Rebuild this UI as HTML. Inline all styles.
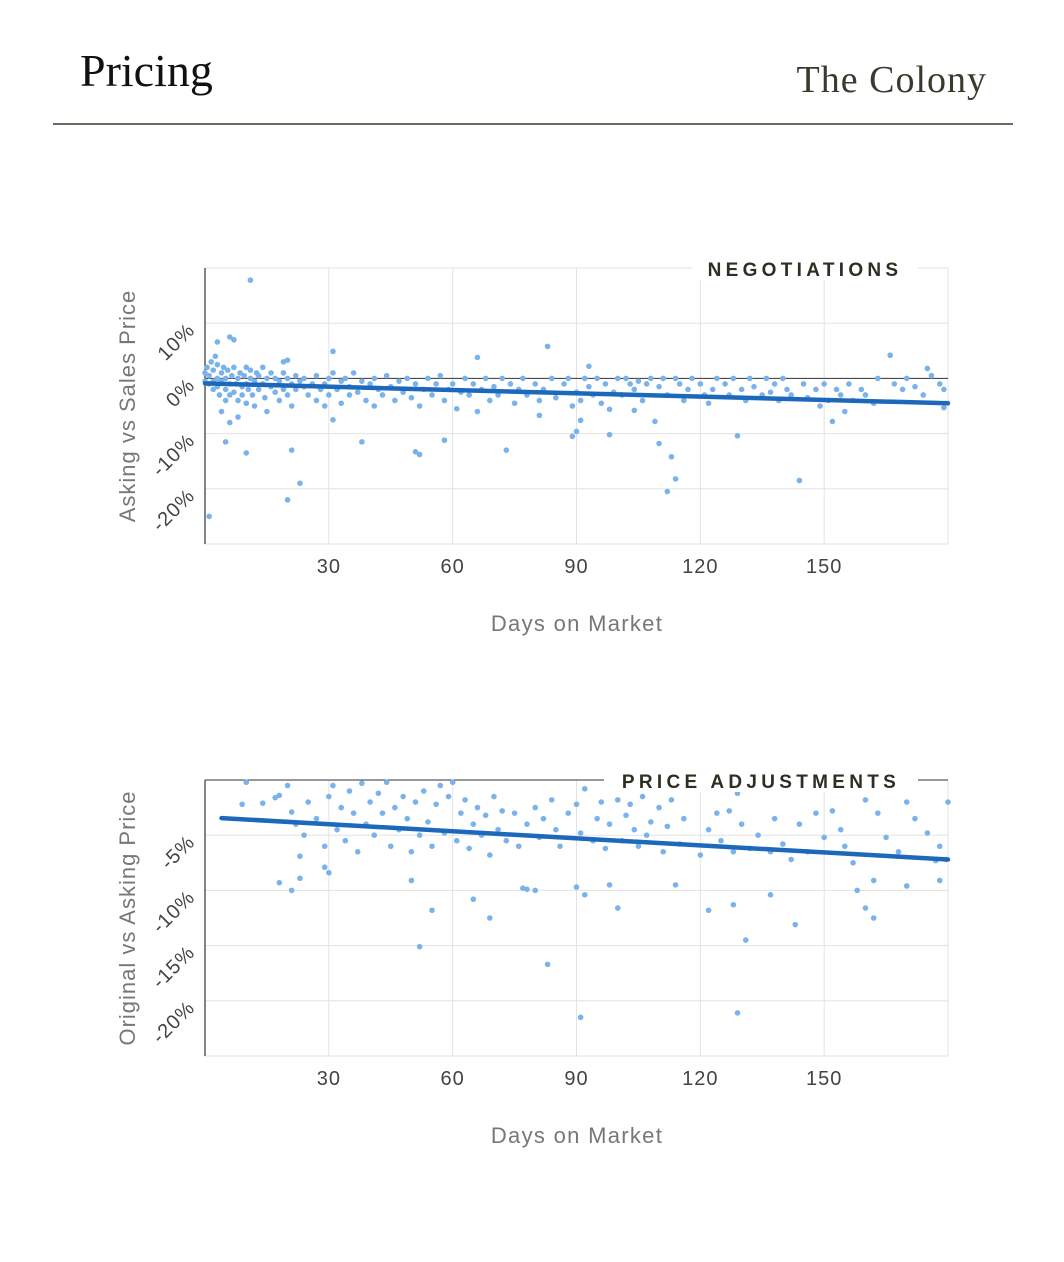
<!DOCTYPE html>
<html><head><meta charset="utf-8">
<style>
html,body{margin:0;padding:0;background:#fff;}
body{width:1064px;height:1262px;position:relative;overflow:hidden;font-family:"Liberation Sans",sans-serif;}
.title{position:absolute;left:80px;top:44px;font-family:"Liberation Serif",serif;font-size:46px;color:#111;}
.city{position:absolute;right:77px;top:58px;font-family:"Liberation Serif",serif;font-size:38px;color:#3b3a2e;letter-spacing:1px;}
.rule{position:absolute;left:53px;top:123px;width:960px;height:2px;background:#6b6a5e;}
svg{position:absolute;left:0;top:0;}
</style></head><body>
<div class="title">Pricing</div>
<div class="city">The Colony</div>
<div class="rule"></div>
<svg id="chart" width="1064" height="1262"></svg>
<script>
// Chart 1 data: negotiations (days on market, % asking vs sales)
const negDays = [0,0,0.5,1,1,1.5,2,2,2,2.5,3,3,3,3.5,4,4,4,4.5,5,5,5,5.5,6,6,6,6.5,7,7,7.5,8,8,8,8.5,9,9,9.5,10,10,10,10.5,11,11,11.5,12,12,12.5,13,13,14,14,14.5,15,15,16,16,17,17,18,18,19,19,20,20,21,21,22,22,23,24,24,25,26,27,27,28,29,29,30,30,31,31,32,33,33,34,35,35,36,37,38,39,40,41,41,42,43,44,45,46,47,48,49,50,51,52,53,54,55,56,57,58,59,60,61,62,63,64,65,66,67,68,69,70,71,72,74,75,76,77,78,80,81,82,84,85,87,88,89,90,91,92,93,94,95,96,97,99,100,101,102,103,104,105,106,107,108,110,111,112,114,115,116,117,118,120,121,122,123,124,126,127,128,130,131,132,133,135,136,137,138,139,140,141,142,145,146,148,149,150,151,153,154,156,157,159,160,162,163,167,169,170,172,174,176,178,179,
11,1,20,23,21,10,5,38,58,51,52,73,83,66,31,6,3,7,93,98,98,89,90,110,113,114,112,109,129,144,166,175,179,152,155,20,19,104,91,81];
const negPct = [1,-0.5,2,0.5,-1,3,1.5,-0.5,-2,4,0,-1.5,2.5,-3,1,-0.5,-6,2,0,-2,-4,1.5,-1,-3,-8,0.5,2,-2.5,-1,0,-4,-7,1,-1.5,-3,0.5,2,-1,-4.5,-2,0,1.5,-3,-0.5,-5,1,-2,0.5,-1,2,-3.5,0,-6,-1.5,1,-2.5,0,-0.5,-4,1,-2,0,-3,-1,-5,0.5,-2,-0.5,-1.5,0,-3,-1,0.5,-4,-2,-1,-5,0,-3,1,-7.5,-2,-0.5,-4.5,0,-1.5,-3,1,-2.5,-0.5,-4,-1,0,-5,-2,-3,0.5,-1.5,-4,-0.5,-2.5,0,-3.5,-1,-5,-2,0,-3,-1,0.5,-4,-2,-1,-5.5,-2.5,0,-3,-1,-6,-2,0,-4,-1.5,-3,0,-1,-4.5,-2,0,-3,-1,-4,-2,0,-3.5,-1,0,-5,-2.5,-4,0,-1.5,-3,0,-4.5,-1,-2.5,0,-3,0,-1,-2,-0.5,-4,-1,0,-1.5,0,-3,0,-1,-4,-2,0,-1,-3,-4.5,-2,0,-1,-3,0,-2,-4,0,-1.5,-3,0,-2.5,-1,-4,0,-2,-3,-1,-3.5,-2,-5,-1,-4,-2,-3,-1,-4,-2,-3,-4.5,0,-1,-2,0,-1.5,-3,0.5,-1,-2,
17.8,-25,-22,-19,-13,-13.5,-11.5,-11.5,-11.2,-13.3,-13.8,-13,5.8,3.8,4.9,7.5,6.6,7,2.2,-5.6,-10.2,-10.5,-9.6,-11.8,-14.2,-18.2,-20.5,-7.8,-10.4,-18.5,4.2,1.8,-5.3,-7.8,-6,3.3,3,-5.8,-7.6,-6.7];
const negTrendDays = [0,180];
const negTrendPct = [-0.9,-4.5];
const negYTicks = [10,0,-10,-20];
const xTicks = [30,60,90,120,150];

// Chart 2 data: price adjustments (days on market, % original vs asking)
const adjDays = [10,9,14,17,18,20,21,22,24,25,27,29,30,31,32,33,34,35,36,37,38,39,40,41,42,43,44,45,46,47,48,49,50,51,52,53,54,55,56,57,58,59,60,61,62,63,64,65,66,67,68,69,70,71,72,73,75,76,78,80,81,82,84,85,86,88,90,91,92,94,95,96,97,98,100,101,102,103,104,105,106,107,108,110,111,112,113,115,116,118,120,122,124,125,127,128,129,130,132,134,136,137,138,140,142,144,146,148,150,152,154,155,157,160,163,165,168,170,172,175,178,
18,21,23,23,29,30,50,52,55,65,69,83,91,77,78,80,90,92,100,98,114,122,128,131,129,137,143,158,160,162,162,170,178,180,179.5,177];
const adjPct = [-0.2,-2.2,-2.1,-1.6,-1.4,-0.5,-2.9,-4,-5,-2,-3.5,-6,-1.5,-0.5,-4.5,-2.5,-5.5,-1,-3,-6.5,-0.3,-4,-2,-5,-1.2,-3,-0.2,-6,-2.5,-4.5,-1.5,-3.5,-6.5,-2,-5,-1,-3.8,-6,-2.2,-0.5,-4.8,-1.5,-0.2,-5.5,-3,-1.8,-6.2,-4,-2.5,-5,-3.2,-6.8,-1.5,-4.5,-2.8,-5.5,-3,-6,-4,-2.5,-5.2,-3.5,-1.8,-4.5,-6,-3,-2.2,-4.8,-0.8,-5.5,-3.5,-2,-6.2,-4,-1.8,-5.5,-3.2,-2.2,-4.5,-6,-1.5,-5,-3.8,-2.5,-6.5,-4.2,-1.8,-5.8,-3.5,-0.2,-6.8,-4.5,-3,-5.5,-2.8,-6.5,-1.2,-4,-6.2,-5,-0.8,-6.5,-3.5,-5.8,-7.2,-4,-6.5,-3,-5.2,-2.8,-4.5,-6,-7.5,-1.8,-3,-5.2,-6.5,-2,-3.5,-4.8,-6,
-9.3,-10,-8.9,-6.9,-7.9,-8.4,-9.1,-15.1,-11.8,-10.8,-12.5,-16.7,-21.5,-9.8,-9.9,-10,-9.7,-10.4,-11.6,-9.5,-9.5,-11.8,-11.3,-14.5,-21.1,-10.4,-13.1,-10,-11.6,-12.5,-9.1,-9.6,-9.1,-2,-7.2,-7.3];
const adjTrendDays = [4,180];
const adjTrendPct = [-3.45,-7.2];
const adjYTicks = [-5,-10,-15,-20];

const NS='http://www.w3.org/2000/svg';
const svg=document.getElementById('chart');
function mk(tag,attrs,parent){const e=document.createElementNS(NS,tag);for(const k in attrs)e.setAttribute(k,attrs[k]);(parent||svg).appendChild(e);return e;}

function drawChart(cfg){
  const {top,bottom,yMax,yMin,days,pct,tDays,tPct,yTicks,gridY,legend,legendX,legendW,yTitle,zeroLine,prefix}=cfg;
  const left=205,right=948,xMax=180;
  const sx=d=>left+d/xMax*(right-left);
  const sy=v=>top+(yMax-v)/(yMax-yMin)*(bottom-top);
  const g=mk('g',{});
  
  
  gridY.forEach(v=>{const l=mk('line',{x1:left,x2:right,y1:sy(v),y2:sy(v),stroke:'#e3e3e3','stroke-width':1},g);
    });
  xTicks.forEach(d=>{const l=mk('line',{x1:sx(d),x2:sx(d),y1:top,y2:bottom,stroke:'#e3e3e3','stroke-width':1},g);
    });
  mk('line',{x1:right,x2:right,y1:top,y2:bottom,stroke:'#e3e3e3'},g);
  if(zeroLine!==null){const z=mk('line',{x1:left,x2:right,y1:sy(zeroLine),y2:sy(zeroLine),stroke:'#333','stroke-width':1},g);
    }
  const ax=mk('line',{x1:left,x2:left,y1:top,y2:bottom,stroke:'#333','stroke-width':1.2},g);
  
  for(let i=0;i<days.length;i++){
    const c=mk('circle',{cx:sx(days[i]),cy:sy(pct[i]),r:2.8,fill:'#7ab2ec'},g);
    
    
  }
  const t=mk('line',{x1:sx(tDays[0]),y1:sy(tPct[0]),x2:sx(tDays[1]),y2:sy(tPct[1]),stroke:'#1c68bb','stroke-width':4.5,'stroke-linecap':'round'},g);
  
  xTicks.forEach(d=>{const tx=mk('text',{x:sx(d),y:bottom+29,'text-anchor':'middle','font-size':20,fill:'#444','letter-spacing':'1'},g);
    tx.textContent=d;});
  yTicks.forEach(v=>{const y=sy(v);const tx=mk('text',{x:0,y:0,'text-anchor':'end','font-size':20,fill:'#444','letter-spacing':'1',transform:`translate(196,${y+8}) rotate(-45)`},g);
    tx.textContent=v+'%';});
  const xt=mk('text',{x:577,y:bottom+87,'text-anchor':'middle','font-size':22,fill:'#777','letter-spacing':'1.3'},g);
  xt.textContent='Days on Market';
  const yc=(top+bottom)/2;
  const yt=mk('text',{x:0,y:0,'text-anchor':'middle','font-size':22,fill:'#777','letter-spacing':'1',transform:`translate(135,${yc}) rotate(-90)`},g);
  yt.textContent=yTitle;
  const r=mk('rect',{x:legendX,y:top-12,width:legendW,height:24,fill:'#fff'},g);
  
  const lt=mk('text',{x:legendX+legendW/2,y:top+8,'text-anchor':'middle','font-size':19,'font-weight':'bold',fill:'#2f2e22','letter-spacing':'4.3'},g);
  lt.textContent=legend;
}
drawChart({prefix:'negotiations',top:268,bottom:544,yMax:20,yMin:-30,days:negDays,pct:negPct,tDays:negTrendDays,tPct:negTrendPct,
  yTicks:negYTicks,gridY:[20,10,-10,-20,-30],legend:'NEGOTIATIONS',legendX:692,legendW:226,yTitle:'Asking vs Sales Price',zeroLine:0});
drawChart({prefix:'price-adjustments',top:780,bottom:1056,yMax:0,yMin:-25,days:adjDays,pct:adjPct,tDays:adjTrendDays,tPct:adjTrendPct,
  yTicks:adjYTicks,gridY:[-5,-10,-15,-20,-25],legend:'PRICE ADJUSTMENTS',legendX:604,legendW:314,yTitle:'Original vs Asking Price',zeroLine:0});
</script>
</body></html>
